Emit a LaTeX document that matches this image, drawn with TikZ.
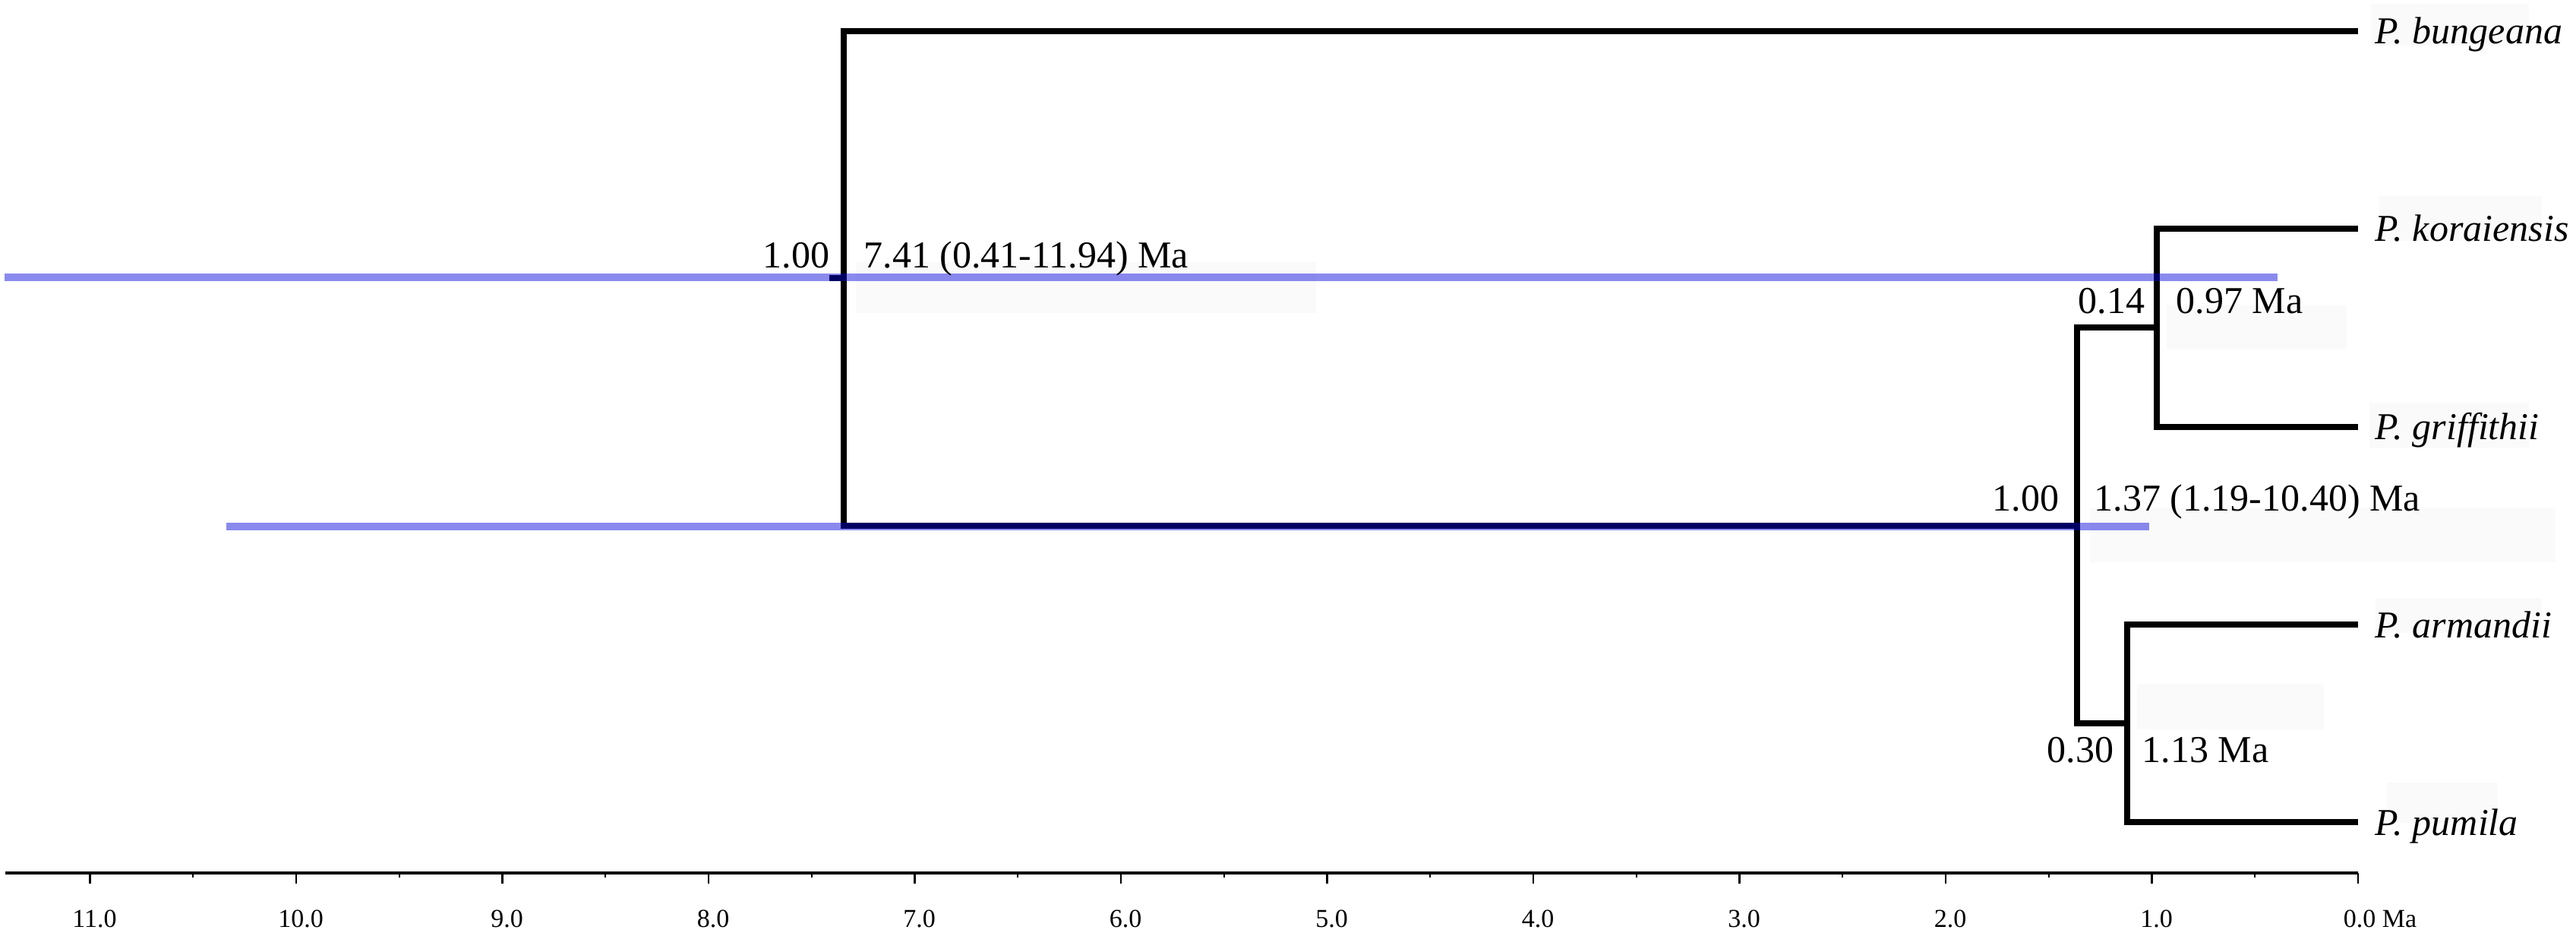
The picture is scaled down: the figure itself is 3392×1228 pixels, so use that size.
\documentclass[tikz,border=0pt]{standalone}
\usepackage{fontspec}
\setmainfont{Liberation Serif}
\definecolor{hpdblue}{RGB}{0,0,220}
\definecolor{faint}{RGB}{250,250,250}
\begin{document}
\begin{tikzpicture}[x=0.25pt,y=-0.25pt,
  branch/.style={line width=2.2pt, line join=miter, line cap=butt},
  hpd/.style={draw=hpdblue, draw opacity=0.46, line width=2.6pt, line cap=butt},
  lab/.style={inner sep=0pt, font=\fontsize{12.5}{14}\selectfont},
  taxon/.style={inner sep=0pt, anchor=base west, font=\fontsize{12.5}{14}\selectfont\itshape},
  axline/.style={line width=1pt},
  majortick/.style={line width=0.6pt},
  minortick/.style={line width=0.5pt},
  axlab/.style={inner sep=0pt, anchor=base, font=\fontsize{8.5}{10}\selectfont},
  bgbox/.style={fill=faint, draw=none}]
\useasboundingbox (0,0) rectangle (3392,1228);
\fill[white] (0,0) rectangle (3392,1228);
% faint label backgrounds
\fill[bgbox] (1127,345) rectangle (1733,412);
\fill[bgbox] (2853,402) rectangle (3090,460);
\fill[bgbox] (2752,668) rectangle (3365,740);
\fill[bgbox] (2814,900) rectangle (3060,960);
\fill[bgbox] (3122,5) rectangle (3330,60);
\fill[bgbox] (3133,258) rectangle (3347,317);
\fill[bgbox] (3120,530) rectangle (3330,590);
\fill[bgbox] (3128,787) rectangle (3347,833);
\fill[bgbox] (3143,1030) rectangle (3289,1083);
% tips and internal nodes
\coordinate (tBun) at (3105,41);
\coordinate (tKor) at (3105,301);
\coordinate (tGri) at (3105,562);
\coordinate (tArm) at (3105,822);
\coordinate (tPum) at (3105,1082);
\coordinate (nRoot) at (1111,366);
\coordinate (rStub) at (1092,366);
\coordinate (n137) at (2735,692);
\coordinate (n097) at (2840,431);
\coordinate (n113) at (2801,952);
% branches
\draw[branch] (tBun) -| (nRoot) |- (n137);
\draw[branch] (rStub) -- (nRoot);
\draw[branch] (n097) -| (n137) |- (n113);
\draw[branch] (tKor) -| (n097) |- (tGri);
\draw[branch] (tArm) -| (n113) |- (tPum);
% 95% HPD bars
\coordinate (b1L) at (6,365);
\coordinate (b1R) at (2999,365);
\coordinate (b2L) at (298,693);
\coordinate (b2R) at (2830,693);
\draw[hpd] (b1L) -- (b1R);
\draw[hpd] (b2L) -- (b2R);
% node labels
\node[lab, anchor=base east] (pp1) at (1093,353) {1.00};
\node[lab, anchor=base west] (age1) at (1137,353) {7.41 (0.41-11.94) Ma};
\node[lab, anchor=base east] (pp2) at (2712,672) {1.00};
\node[lab, anchor=base west] (age2) at (2757,672) {1.37 (1.19-10.40) Ma};
\node[lab, anchor=base east] (pp3) at (2825,413) {0.14};
\node[lab, anchor=base west] (age3) at (2865,413) {0.97 Ma};
\node[lab, anchor=base east] (pp4) at (2784,1003) {0.30};
\node[lab, anchor=base west] (age4) at (2820,1003) {1.13 Ma};
% taxa
\node[taxon] (lBun) at (3127,58) {P. bungeana};
\node[taxon] (lKor) at (3127,318) {P. koraiensis};
\node[taxon] (lGri) at (3127,579) {P. griffithii};
\node[taxon] (lArm) at (3127,839) {P. armandii};
\node[taxon] (lPum) at (3127,1099) {P. pumila};
% time axis
\coordinate (axL) at (7,1149);
\coordinate (axR) at (3105,1149);
\draw[axline] (axL) -- (axR);
\foreach \i in {0,...,11} {
  \coordinate (tk\i) at ({3105-271.5*\i},1149);
  \draw[majortick] (tk\i) -- ++(0,14);
}
\foreach \i in {0,...,10} {
  \coordinate (mt\i) at ({3105-271.5*(\i+0.5)},1149);
  \draw[minortick] (mt\i) -- ++(0,6);
}
\foreach \i in {1,...,11} {
  \node[axlab] (al\i) at ({3105-271.5*\i+6},1220) {\i.0};
}
\node[axlab, anchor=base west] (al0) at (3085,1220) {0.0 Ma};
\end{tikzpicture}
\end{document}
